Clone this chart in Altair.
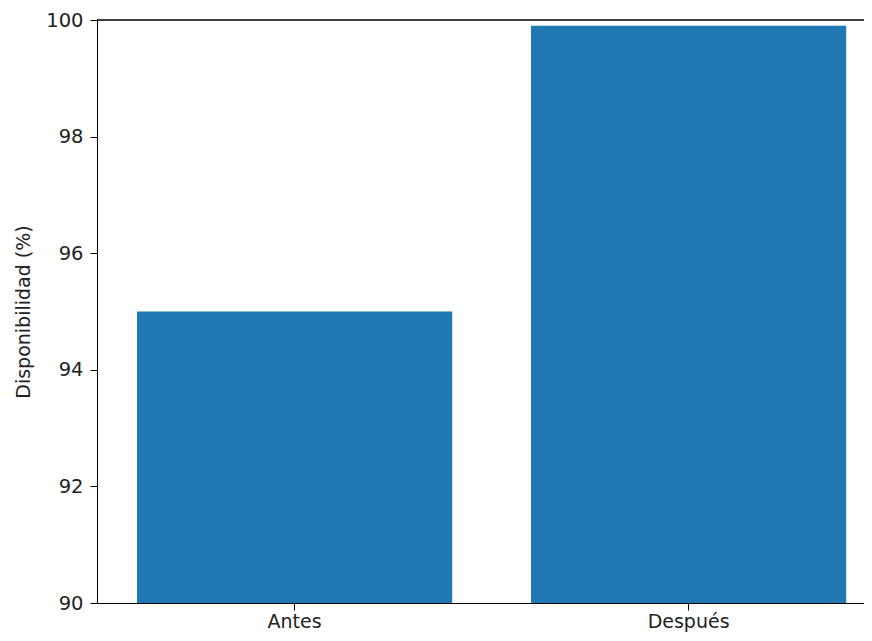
import altair as alt
import pandas as pd

categories = ["Antes", "Después"]
values = [95.0, 99.9]
y_ticks = [90, 92, 94, 96, 98, 100]

df = pd.DataFrame({"periodo": categories, "disp": values})

W = 767
H = 583
FONT = "DejaVu Sans"

bars = alt.Chart().mark_bar(color="#1f77b4", clip=True).encode(
    x=alt.X("periodo:N", sort=categories, title=None,
            scale=alt.Scale(paddingInner=0.2, paddingOuter=0.0734, align=0.692),
            axis=alt.Axis(labelAngle=0, labelFontSize=19, labelColor="#222",
                          tickSize=7, tickColor="black", domainColor="black",
                          labelPadding=2, labelFont=FONT)),
    y=alt.Y("disp:Q", title="Disponibilidad (%)",
            scale=alt.Scale(domain=[90, 100], nice=False, zero=False),
            axis=alt.Axis(values=y_ticks, grid=False, labelFontSize=19.5, labelColor="#222",
                          tickSize=7, tickColor="black", domainColor="black",
                          labelPadding=7, labelFont=FONT,
                          titleFont=FONT, titleFontSize=19,
                          titleFontWeight="normal", titleColor="#222", titlePadding=12)),
)

top_rule = alt.Chart().mark_rule(color="black", strokeWidth=1).encode(
    x=alt.value(0), x2=alt.value(W), y=alt.value(0)
)

chart = alt.layer(bars, top_rule, data=df).properties(
    width=W, height=H,
    autosize=alt.AutoSizeParams(type="none"),
    padding={"left": 89, "top": 12, "right": 0, "bottom": 30},
).configure_view(stroke=None)

chart.save("out.html", embed_options={"renderer": "svg", "actions": False})
